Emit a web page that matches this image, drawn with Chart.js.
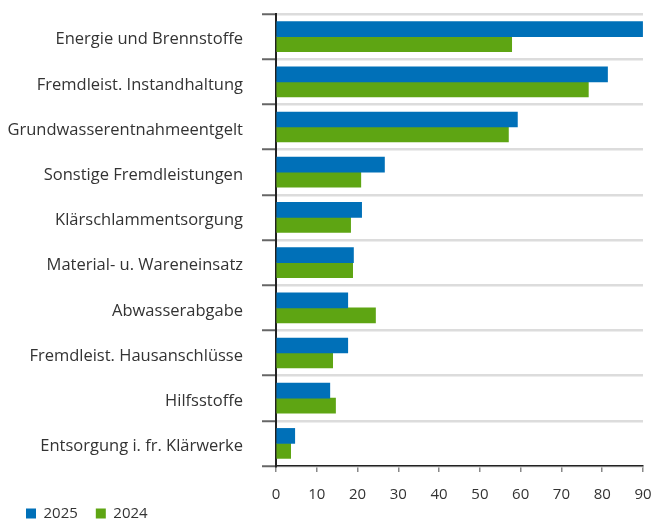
<!DOCTYPE html>
<html>
<head>
<meta charset="utf-8">
<script src="https://cdn.jsdelivr.net/npm/chart.js@4"></script>
<style>
  html, body { margin: 0; padding: 0; background: #fff; }
  #wrap { width: 653px; height: 521px; }
</style>
</head>
<body>
<div id="wrap"><canvas id="chart" width="653" height="521"></canvas></div>
<script>
// Kategorien und Werte
const categories = [
    'Energie und Brennstoffe',
    'Fremdleist. Instandhaltung',
    'Grundwasserentnahmeentgelt',
    'Sonstige Fremdleistungen',
    'Klärschlammentsorgung',
    'Material- u. Wareneinsatz',
    'Abwasserabgabe',
    'Fremdleist. Hausanschlüsse',
    'Hilfsstoffe',
    'Entsorgung i. fr. Klärwerke'
];
const values2025 = [89.9, 81.3, 59.2, 26.6, 21.0, 19.0, 17.6, 17.6, 13.2, 4.6];
const values2024 = [57.8, 76.6, 57.0, 20.8, 18.3, 18.8, 24.4, 13.9, 14.6, 3.6];
const xTicks = [0, 10, 20, 30, 40, 50, 60, 70, 80, 90];

const BLUE = '#0070b8';
const GREEN = '#5ea513';
const FONT = "'Open Sans', sans-serif";

Chart.defaults.font.family = FONT;
Chart.defaults.color = '#333';

// Legende etwas nach rechts und nach oben schieben (wie im Original)
const legendNudge = {
    id: 'legendNudge',
    afterLayout(chart) {
        const lg = chart.legend;
        if (!lg) return;
        const dy = 488 - lg.top;
        lg.top += dy; lg.bottom += dy;
        lg.left += 8; lg.right += 8;
    }
};

new Chart(document.getElementById('chart'), {
    type: 'bar',
    data: {
        labels: categories,
        datasets: [
            { label: '2025', data: values2025, backgroundColor: BLUE, barThickness: 15 },
            { label: '2024', data: values2024, backgroundColor: GREEN, barThickness: 15 }
        ]
    },
    options: {
        indexAxis: 'y',
        responsive: false,
        animation: false,
        categoryPercentage: 0.756,
        layout: { padding: { top: 14, right: 10, left: 0, bottom: -32 } },
        plugins: {
            legend: {
                position: 'bottom',
                align: 'start',
                labels: {
                    boxWidth: 10, boxHeight: 10, padding: 18,
                    font: { size: 15, family: FONT }, color: '#333'
                }
            },
            tooltip: { enabled: false }
        },
        scales: {
            x: {
                min: 0, max: 90,
                afterBuildTicks: s => { s.ticks = xTicks.map(v => ({ value: v })); },
                afterFit: s => { s.height = 44; s.paddingLeft = 0; s.paddingRight = 0; },
                border: { display: true, color: '#222', width: 1.5 },
                grid: { display: true, drawOnChartArea: false, drawTicks: true, tickLength: 6, tickColor: '#888', lineWidth: 1.5 },
                ticks: { font: { size: 15, family: FONT }, color: '#333', padding: 14 }
            },
            y: {
                afterFit: s => { s.width = 276; s.paddingTop = 0; s.paddingBottom = 0; },
                border: { display: true, color: '#222', width: 2 },
                grid: { offset: true, color: '#dcdcdc', lineWidth: 2.5, tickLength: 14, tickColor: '#666', tickWidth: 2 },
                ticks: { font: { size: 16.5, family: FONT }, color: '#333', padding: 19, labelOffset: 3 }
            }
        }
    },
    plugins: [legendNudge]
});
</script>
</body>
</html>
